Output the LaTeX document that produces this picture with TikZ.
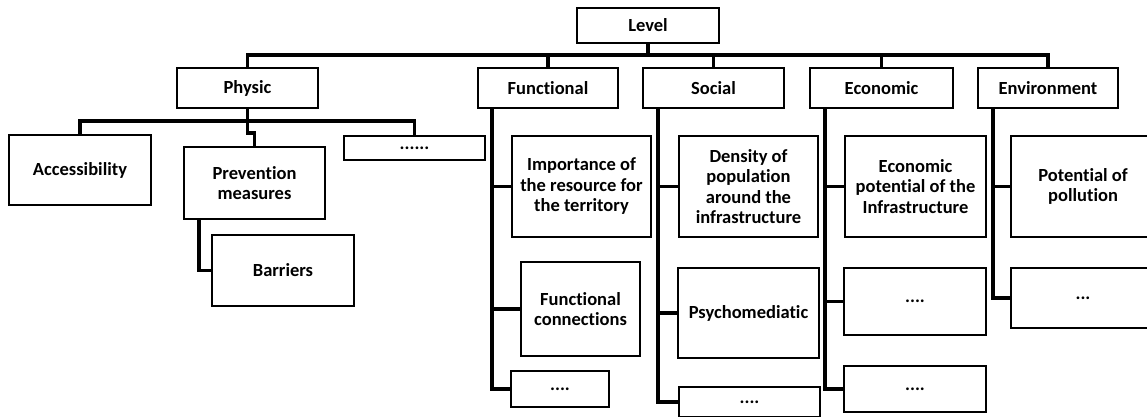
\documentclass[tikz,border=0pt]{standalone}
\usepackage{fontspec}
\setmainfont{Carlito}[Ligatures=NoCommon]
\usepackage{tikz}

\begin{document}
\begin{tikzpicture}[x=1pt,y=-1pt,
  box/.style={draw, line width=2.8pt, inner sep=0pt, outer sep=0pt, align=center,
    font=\bfseries\fontsize{18.5}{20.5}\selectfont},
  link/.style={line width=3.6pt}]
\useasboundingbox (0,0) rectangle (1147,416);
\clip (0,0) rectangle (1147,416);
% top level
\node[box, minimum width=142, minimum height=35] (level) at (648,25.5) {Level};
\node[box, minimum width=141, minimum height=40] (physic) at (247.5,88) {Physic};
\node[box, minimum width=140, minimum height=40] (functional) at (548,88) {Functional};
\node[box, minimum width=141, minimum height=40] (social) at (713.5,88) {Social};
\node[box, minimum width=143, minimum height=40] (economic) at (881.5,88) {Economic};
\node[box, minimum width=140, minimum height=40] (environment) at (1048,88) {Environment};
% physic
\node[box, minimum width=142, minimum height=70] (accessibility) at (80,170) {Accessibility};
\node[box, minimum width=141, minimum height=72] (prevention) at (254.5,183) {Prevention\\measures};
\node[box, minimum width=141, minimum height=24] (physdots) at (414.5,148) {......};
\node[box, minimum width=142, minimum height=71] (barriers) at (283,270.5) {Barriers};
% functional
\node[box, minimum width=139, minimum height=101] (importance) at (581.5,186.5) {Importance of\\the resource for\\the territory};
\node[box, minimum width=119, minimum height=94] (funcconn) at (580.5,309) {Functional\\connections};
\node[box, minimum width=98, minimum height=36] (funcdots) at (560,389) {....};
% social
\node[box, minimum width=139, minimum height=101] (density) at (748.5,186.5) {Density of\\population\\around the\\infrastructure};
\node[box, minimum width=141, minimum height=90] (psycho) at (748.5,313) {Psychomediatic};
\node[box, minimum width=141, minimum height=30] (socdots) at (749.5,402) {....};
% economic
\node[box, minimum width=141, minimum height=101] (econpot) at (915.5,186.5) {Economic\\potential of the\\Infrastructure};
\node[box, minimum width=142, minimum height=67] (econdotsa) at (915,301.5) {....};
\node[box, minimum width=142, minimum height=46] (econdotsb) at (915,389) {....};
% environment
\node[box, minimum width=144, minimum height=101] (pollution) at (1083,186.5) {Potential of\\pollution};
\node[box, minimum width=144, minimum height=60] (envdots) at (1083,298) {...};

% connectors
\draw[link] (level.south) -- ++(0,12);
\draw[link] (physic.north) -- ++(0,-13) -| (environment.north);
\draw[link] (functional.north) -- ++(0,-13);
\draw[link] (social.north) -- ++(0,-13);
\draw[link] (economic.north) -- ++(0,-13);
\draw[link] (physic.south) -- ++(0,13) coordinate (pbus);
\draw[link] (accessibility.north) |- (pbus) -| (physdots.north);
\draw[link] (pbus) -- ++(0,12) -| (prevention.north);
\draw[link] ([xshift=15pt]prevention.south west) |- (barriers.west);
\draw[link] ([xshift=14pt]functional.south west) |- (importance.west);
\draw[link] ([xshift=14pt]functional.south west) |- (funcconn.west);
\draw[link] ([xshift=14pt]functional.south west) |- (funcdots.west);
\draw[link] ([xshift=15pt]social.south west) |- (density.west);
\draw[link] ([xshift=15pt]social.south west) |- (psycho.west);
\draw[link] ([xshift=15pt]social.south west) |- (socdots.west);
\draw[link] ([xshift=15pt]economic.south west) |- (econpot.west);
\draw[link] ([xshift=15pt]economic.south west) |- (econdotsa.west);
\draw[link] ([xshift=15pt]economic.south west) |- (econdotsb.west);
\draw[link] ([xshift=15pt]environment.south west) |- (pollution.west);
\draw[link] ([xshift=15pt]environment.south west) |- (envdots.west);
\end{tikzpicture}
\end{document}
